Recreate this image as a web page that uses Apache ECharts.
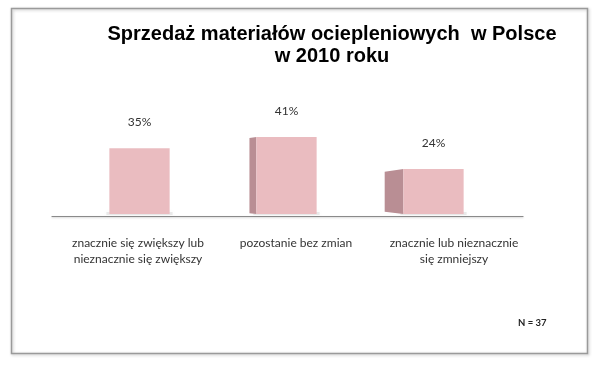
<!DOCTYPE html>
<html><head><meta charset="utf-8">
<script src="https://cdn.jsdelivr.net/npm/echarts@6/dist/echarts.min.js"></script>
<style>html,body{margin:0;padding:0;background:#fff}#c{width:600px;height:371px}</style>
</head><body><div id="c"></div>
<script>
const categories = ['znacznie się zwiększy lub\nnieznacznie się zwiększy', 'pozostanie bez zmian', 'znacznie lub nieznacznie\nsię zmniejszy'];
const values = [35, 41, 24];
const valueLabels = ['35%', '41%', '24%'];
const titleLines = ['Sprzedaż materiałów ociepleniowych  w Polsce', 'w 2010 roku'];
const noteText = 'N = 37';

const VP_X = 200, DEPTH_K = 0.08;
const chart = echarts.init(document.getElementById('c'), null, {renderer: 'canvas'});
chart.setOption({
  backgroundColor: '#ffffff',
  animation: false,
  title: {
    text: titleLines.join('\n'), left: 327, top: 18, textAlign: 'center',
    textStyle: {fontFamily: 'Liberation Sans', fontWeight: 'bold', fontSize: 20, color: '#000', lineHeight: 22}
  },
  graphic: [
    {type: 'rect', shape: {x: 11.5, y: 8.5, width: 576, height: 345}, style: {fill: 'none', stroke: '#9a9a9a', lineWidth: 1.5, shadowColor: 'rgba(0,0,0,0.25)', shadowBlur: 3, shadowOffsetX: 1, shadowOffsetY: 1}, z: 0},
    {type: 'text', left: 518, top: 318, style: {text: noteText, font: 'bold 9.5px Lato', fill: '#222'}}
  ],
  grid: [
    {left: 66, width: 441, top: 120, height: 94},
    {left: 52, width: 471, top: 120, height: 96},
    {left: 59, width: 474, top: 120, height: 96}
  ],
  xAxis: [
    {type: 'category', gridIndex: 0, data: categories, axisLine: {show: false}, axisTick: {show: false}, axisLabel: {show: false}},
    {type: 'category', gridIndex: 1, data: categories, axisLine: {show: true, lineStyle: {color: '#8a8a8a', width: 1.2, shadowColor: 'rgba(0,0,0,0.2)', shadowBlur: 2, shadowOffsetY: 1}}, axisTick: {show: false}, axisLabel: {show: false}},
    {type: 'category', gridIndex: 2, data: categories, axisLine: {show: false}, axisTick: {show: false},
      axisLabel: {show: true, interval: 0, margin: 19, fontFamily: 'Lato', fontSize: 12, lineHeight: 16, color: '#333'}}
  ],
  yAxis: [
    {type: 'value', gridIndex: 0, min: 0, max: 50, show: false, splitLine: {show: false}},
    {type: 'value', gridIndex: 1, min: 0, max: 50, show: false, splitLine: {show: false}},
    {type: 'value', gridIndex: 2, min: 0, max: 50, show: false, splitLine: {show: false}}
  ],
  series: [{
    type: 'custom',
    xAxisIndex: 0, yAxisIndex: 0,
    data: values.map((v, i) => [i, v]),
    renderItem: function (params, api) {
      const i = api.value(0), v = api.value(1);
      const top = api.coord([i, v]);
      const base = api.coord([i, 0]);
      const w = api.size([1, 0])[0] * 0.41;
      const x0 = top[0] - w / 2;
      const d = Math.max(0, (top[0] - VP_X) * DEPTH_K);
      const children = [
        {type: 'rect', shape: {x: x0 - 3, y: base[1] - 2, width: w + 6, height: 3},
          style: {fill: 'rgba(150,150,150,0.18)', shadowColor: 'rgba(0,0,0,0.25)', shadowBlur: 5}},
        {type: 'rect', shape: {x: x0, y: top[1], width: w, height: base[1] - top[1]},
          style: {fill: '#eabcc0'}},
        {type: 'text', style: {text: valueLabels[params.dataIndex], x: top[0], y: top[1] - 26,
          align: 'center', verticalAlign: 'middle', font: '12px Lato', fill: '#333'}}
      ];
      if (d > 0) {
        children.splice(1, 0, {type: 'polygon', shape: {points: [
          [x0 - d, top[1] + d * 0.15], [x0, top[1]], [x0, base[1]], [x0 - d, base[1] - d * 0.12]
        ]}, style: {fill: '#b98e94'}});
      }
      return {type: 'group', children: children};
    }
  }]
});
</script></body></html>
